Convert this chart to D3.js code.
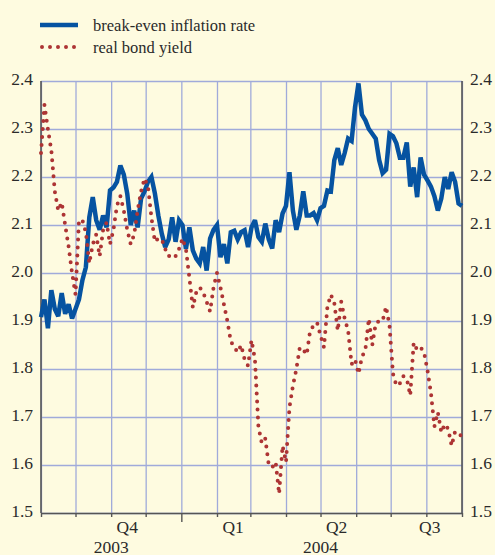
<!DOCTYPE html>
<html>
<head>
<meta charset="utf-8">
<script src="https://cdn.jsdelivr.net/npm/d3@7"></script>
<style>
body { margin: 0; background: #fefbe0; }
svg { display: block; }
text { font-family: "Liberation Serif", "Times New Roman", serif; fill: #2a2a2a; }
</style>
</head>
<body>
<svg id="chart" width="495" height="555"></svg>
<script>
// sampled every 3 days from 1 Sep 2003
const startDate = "2003-09-01";
const endDate = "2004-09-01";
const stepDays = 3;

const breakEven = [
    1.908, 1.945, 1.885, 1.964, 1.925, 1.91, 1.958, 1.915, 1.935, 1.905,
    1.925, 1.945, 1.985, 2.012, 2.116, 2.158, 2.11, 2.09, 2.12, 2.095,
    2.172, 2.178, 2.19, 2.224, 2.205, 2.165, 2.10, 2.13, 2.095, 2.155,
    2.17, 2.19, 2.2, 2.166, 2.12, 2.082, 2.054, 2.07, 2.116, 2.065,
    2.11, 2.10, 2.05, 2.095, 2.047, 2.03, 2.02, 2.054, 2.005, 2.072,
    2.09, 2.1, 2.033, 2.06, 2.02, 2.085, 2.088, 2.07, 2.085, 2.089,
    2.054, 2.095, 2.11, 2.075, 2.065, 2.103, 2.07, 2.051, 2.11, 2.085,
    2.124, 2.14, 2.21, 2.13, 2.09, 2.12, 2.17, 2.12, 2.12, 2.125,
    2.11, 2.135, 2.14, 2.172, 2.17, 2.235, 2.26, 2.225, 2.25, 2.28,
    2.275, 2.345, 2.395, 2.33, 2.318, 2.30, 2.29, 2.28, 2.235, 2.208,
    2.215, 2.29, 2.285, 2.27, 2.24, 2.24, 2.272, 2.18, 2.22, 2.158,
    2.241, 2.205, 2.193, 2.18, 2.16, 2.13, 2.155, 2.2, 2.175, 2.21,
    2.19, 2.145, 2.14
];

const realYield = [
    2.25, 2.35, 2.30, 2.255, 2.17, 2.13, 2.147, 2.10, 2.055, 2.0,
    1.955, 2.11, 2.11, 2.085, 2.02, 2.06, 2.08, 2.035, 2.09, 2.105,
    2.06, 2.09, 2.14, 2.16, 2.13, 2.09, 2.06, 2.08, 2.13, 2.17,
    2.197, 2.18, 2.116, 2.065, 2.072, 2.07, 2.05, 2.035, 2.04, 2.035,
    2.05, 2.072, 2.05, 1.99, 1.928, 1.96, 1.97, 1.96, 1.94, 1.92,
    1.97, 2.0, 1.97, 1.935, 1.90, 1.858, 1.845, 1.835, 1.85, 1.82,
    1.807, 1.86, 1.82, 1.68, 1.645, 1.655, 1.60, 1.595, 1.606, 1.54,
    1.64, 1.606, 1.72, 1.765, 1.80, 1.845, 1.84, 1.83, 1.88, 1.89,
    1.897, 1.87, 1.845, 1.93, 1.955, 1.937, 1.88, 1.94, 1.905, 1.88,
    1.81, 1.82, 1.79, 1.825, 1.84, 1.905, 1.85, 1.895, 1.90, 1.90,
    1.93, 1.89, 1.79, 1.765, 1.77, 1.785, 1.78, 1.745, 1.855, 1.84,
    1.845, 1.835, 1.797, 1.75, 1.68, 1.71, 1.668, 1.685, 1.675, 1.64,
    1.67, 1.665, 1.66
];

const yTicks = [1.5, 1.6, 1.7, 1.8, 1.9, 2.0, 2.1, 2.2, 2.3, 2.4];
const quarterLabels = ["Q4", "Q1", "Q2", "Q3"];
const quarterDates = ["2003-11-15", "2004-02-15", "2004-05-15", "2004-08-04"];
const yearLabels = ["2003", "2004"];
const yearDates = ["2003-11-01", "2004-05-01"];
const seriesNames = ["break-even inflation rate", "real bond yield"];

const blueColor = "#0653a1";
const redColor = "#ad3434";
const gridColor = "#a0aada";
const axisColor = "#555";

const svg = d3.select('#chart');
const svgMargin = {top: 81, right: 33, bottom: 42, left: 41};
const innerWidth = 495 - svgMargin.left - svgMargin.right;
const innerHeight = 555 - svgMargin.top - svgMargin.bottom;

const parseDate = d3.timeParse("%Y-%m-%d");
const dates = breakEven.map((d, i) => d3.timeDay.offset(parseDate(startDate), i * stepDays));

const xScale = d3.scaleTime()
    .domain([parseDate(startDate), parseDate(endDate)])
    .range([0, innerWidth]);

const yScale = d3.scaleLinear()
    .domain([1.5, 2.4])
    .range([innerHeight, 0]);

const g = svg.append('g')
    .attr('transform', `translate(${svgMargin.left}, ${svgMargin.top})`);

// grid
const vGrid = g.append('g')
    .call(d3.axisBottom(xScale).ticks(d3.timeMonth.every(1)).tickSize(innerHeight).tickFormat(''));
vGrid.select('.domain').remove();
vGrid.selectAll('text').remove();
vGrid.selectAll('line').attr('stroke', gridColor).attr('stroke-width', 1.3);

const hGrid = g.append('g')
    .call(d3.axisLeft(yScale).tickValues(yTicks).tickSize(-innerWidth).tickFormat(''));
hGrid.select('.domain').remove();
hGrid.selectAll('text').remove();
hGrid.selectAll('line').attr('stroke', gridColor).attr('stroke-width', 1.3);

// left and right axis lines
g.append('line')
    .attr('x1', 0).attr('x2', 0).attr('y1', 0).attr('y2', innerHeight)
    .attr('stroke', axisColor).attr('stroke-width', 1.6);
g.append('line')
    .attr('x1', innerWidth).attr('x2', innerWidth).attr('y1', 0).attr('y2', innerHeight)
    .attr('stroke', axisColor).attr('stroke-width', 1.6);

// y labels on both sides
const fmt = d3.format('.1f');
g.selectAll('.ylab-left').data(yTicks)
    .enter()
    .append('text')
    .attr('class', 'ylab-left')
    .attr('x', -8)
    .attr('y', (d) => yScale(d) + 4)
    .attr('text-anchor', 'end')
    .attr('font-size', 17.5)
    .text(fmt);

g.selectAll('.ylab-right').data(yTicks)
    .enter()
    .append('text')
    .attr('class', 'ylab-right')
    .attr('x', innerWidth + 8)
    .attr('y', (d) => yScale(d) + 4)
    .attr('text-anchor', 'start')
    .attr('font-size', 17.5)
    .text(fmt);

// x axis with month ticks
const xAxisGroup = g.append('g')
    .attr('transform', `translate(0, ${innerHeight})`)
    .call(d3.axisBottom(xScale).ticks(d3.timeMonth.every(1)).tickSize(4).tickSizeOuter(0).tickFormat(''));
xAxisGroup.selectAll('text').remove();
xAxisGroup.select('.domain').attr('stroke', axisColor).attr('stroke-width', 1.6);
xAxisGroup.selectAll('line')
    .attr('stroke', axisColor)
    .attr('stroke-width', 1.4)
    .attr('y2', (d) => d.getMonth() === 0 ? 9 : 4);

g.selectAll('.quarter').data(quarterLabels)
    .enter()
    .append('text')
    .attr('class', 'quarter')
    .attr('x', (d, i) => xScale(parseDate(quarterDates[i])))
    .attr('y', innerHeight + 20)
    .attr('text-anchor', 'middle')
    .attr('font-size', 17.5)
    .text((d) => d);

g.selectAll('.year').data(yearLabels)
    .enter()
    .append('text')
    .attr('class', 'year')
    .attr('x', (d, i) => xScale(parseDate(yearDates[i])))
    .attr('y', innerHeight + 40)
    .attr('text-anchor', 'middle')
    .attr('font-size', 17.5)
    .text((d) => d);

// series
const line = (values) => d3.line()
    .x((d, i) => xScale(dates[i]))
    .y((d) => yScale(d))(values);

g.append('path')
    .attr('d', line(breakEven))
    .attr('fill', 'none')
    .attr('stroke', blueColor)
    .attr('stroke-width', 4.5)
    .attr('stroke-linejoin', 'miter')
    .attr('stroke-miterlimit', 3);

g.append('path')
    .attr('d', line(realYield))
    .attr('fill', 'none')
    .attr('stroke', redColor)
    .attr('stroke-width', 4)
    .attr('stroke-linecap', 'round')
    .attr('stroke-dasharray', '0 8');

// legend
const legend = svg.append('g');
legend.append('line')
    .attr('x1', 40).attr('x2', 78).attr('y1', 25).attr('y2', 25)
    .attr('stroke', blueColor).attr('stroke-width', 4.5);
legend.append('line')
    .attr('x1', 42).attr('x2', 78).attr('y1', 47).attr('y2', 47)
    .attr('stroke', redColor).attr('stroke-width', 4)
    .attr('stroke-linecap', 'round').attr('stroke-dasharray', '0 8');
legend.selectAll('text').data(seriesNames)
    .enter()
    .append('text')
    .attr('x', 93)
    .attr('y', (d, i) => 31 + i * 22)
    .attr('font-size', 16.5)
    .text((d) => d);
</script>
</body>
</html>
